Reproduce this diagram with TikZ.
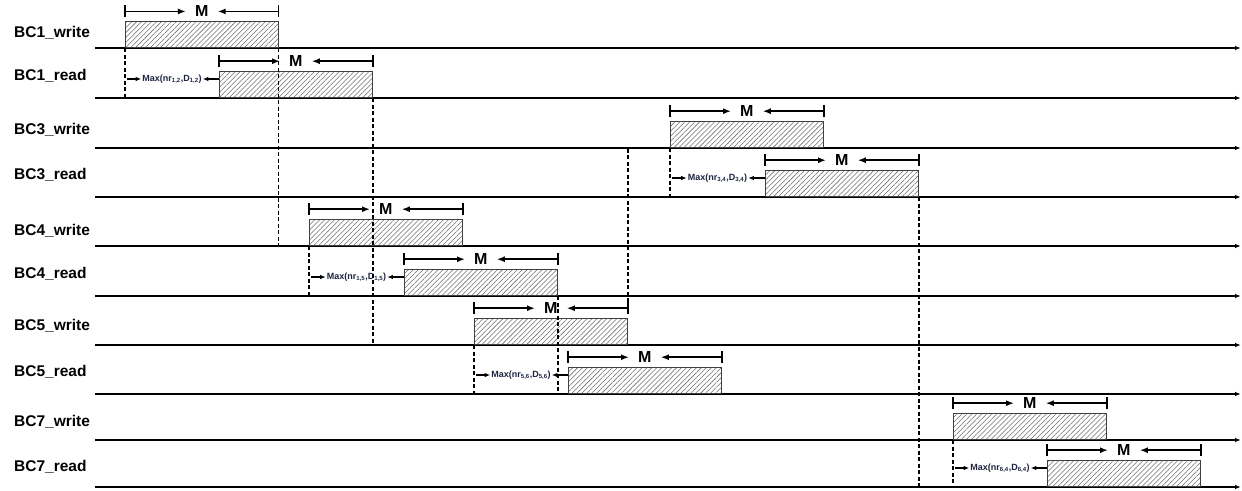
\documentclass[tikz,border=0pt]{standalone}
\usepackage{fontspec}
\setmainfont{Liberation Sans}
\usetikzlibrary{arrows.meta,positioning,calc,patterns.meta}
\definecolor{hgray}{HTML}{6E6E6E}
\definecolor{mnavy}{HTML}{1C2440}
\tikzset{
  lane/.style={line width=1.8pt,-{Latex[length=6pt,width=4.5pt]}},
  lanelbl/.style={font=\fontsize{15.5}{17}\selectfont\bfseries,anchor=west,inner sep=0pt},
  slot/.style={draw=black!75,line width=0.8pt,minimum width=153pt,minimum height=26pt,
               anchor=south west,inner sep=0pt,
               pattern={Lines[angle=45,distance=3.5pt,line width=0.55pt]},pattern color=hgray},
  mlbl/.style={font=\fontsize{16}{17}\selectfont\bfseries,inner xsep=9pt,inner ysep=0pt},
  marr/.style={line width=1.6pt,-{Latex[length=8pt,width=6pt]}},
  mtick/.style={line width=1.6pt},
  dep/.style={line width=1.5pt,dash pattern=on 4pt off 2.5pt},
  maxlbl/.style={font=\fontsize{9}{10}\selectfont\bfseries,text=mnavy,inner sep=1pt},
  sarr/.style={line width=1.2pt,-{Latex[length=5.5pt,width=4.5pt]}},
}
\begin{document}
\begin{tikzpicture}[x=1pt,y=-1pt]
\useasboundingbox (0,0) rectangle (1242,490);
% time lanes
\foreach \i/\y/\ly/\t in {1/48/33/BC1\_write,2/98/76/BC1\_read,3/148/130/BC3\_write,
  4/197/175/BC3\_read,5/246/231/BC4\_write,6/296/274/BC4\_read,7/345/326/BC5\_write,
  8/394/372/BC5\_read,9/440/422/BC7\_write,10/487/467/BC7\_read}{
  \coordinate (a\i) at (95,\y);
  \coordinate (b\i) at (1241,\y);
  \draw[lane] (a\i) -- (b\i);
  \node[lanelbl] (l\i) at (14,\ly) {\t};}
% slots with their M brackets
\foreach \n/\x/\y in {w1/125/48,r1/219/98,w3/670/148,r3/765/197,w4/309/246,
  r4/404/296,w5/474/345,r5/568/394,w7/953/440,r7/1047/487}{
  \node[slot] (\n) at (\x,\y) {};
  \node[mlbl] (m\n) at ($(\n.north)+(0,-10)$) {M};
  \coordinate (p\n) at ($(\n.north west)+(0,-10)$);
  \coordinate (q\n) at ($(\n.north east)+(0,-10)$);
  \draw[mtick] ($(p\n)+(0,-6)$) -- ($(p\n)+(0,6)$);
  \draw[mtick] ($(q\n)+(0,-6)$) -- ($(q\n)+(0,6)$);
  \draw[marr] (p\n) -- (m\n.west);
  \draw[marr] (q\n) -- (m\n.east);}
% read delay after each write
\foreach \r/\w/\s in {r1/w1/{1,2},r3/w3/{3,4},r4/w4/{1,5},r5/w5/{5,6},r7/w7/{6,4}}{
  \coordinate (d\r) at (\w.south west |- \r.south);
  \draw[dep] (\w.south west) -- (d\r);
  \node[maxlbl] (x\r) at ($(d\r)!0.5!(\r.south west)+(0,-19)$)
    {Max(nr\textsubscript{\s},D\textsubscript{\s})};
  \draw[sarr] ($(x\r.west -| \w.south west)+(2,0)$) -- (x\r.west);
  \draw[sarr] (x\r.east -| \r.west) -- (x\r.east);}
% other dependencies
\draw[dep] (w1.south east) -- (w1.south east |- a5);
\draw[dep] (r1.south east) -- (r1.south east |- a7);
\draw[dep] ($(qw5)+(0,-6)$) -- (qw5 |- a3);
\draw[dep] (r3.south east) -- (r3.south east |- a10);
\draw[dep] (r4.south east) -- (r4.south east |- a8);
\end{tikzpicture}
\end{document}
